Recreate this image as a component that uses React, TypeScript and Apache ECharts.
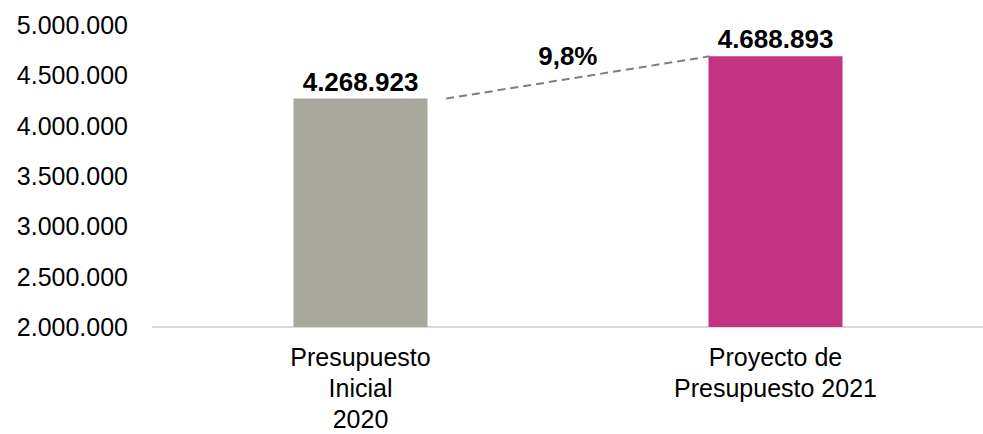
import React, { useEffect, useRef } from "react";
import * as echarts from "echarts";

const categories = ["Presupuesto\nInicial\n2020", "Proyecto de\nPresupuesto 2021"];
const values = [4268923, 4688893];
const barColors = ["#A8A89C", "#C23382"];
const yTicks = { min: 2000000, max: 5000000, interval: 500000 };

const FONT = "'Liberation Sans', Arial, Helvetica, sans-serif";

function fmt(v: number): string {
  return String(Math.round(v)).replace(/\B(?=(\d{3})+(?!\d))/g, ".");
}

export default function App() {
  const ref = useRef<HTMLDivElement>(null);
  useEffect(() => {
    if (!ref.current) return;
    const chart = echarts.init(ref.current, undefined, { renderer: "svg" });

    // bar geometry in category units (band = 1)
    const barFrac = 134 / 421.5;
    const gapFrac = 20 / 421.5;
    const startX = 0.5 + barFrac / 2 + gapFrac;
    const endX = 1.5 - barFrac / 2;
    const pct = (values[1] / values[0] - 1) * 100;
    const pctText = pct.toFixed(1).replace(".", ",") + "%";
    const midX = (startX + endX) / 2;
    const midY = (values[0] + values[1]) / 2;

    chart.setOption({
      animation: false,
      grid: { left: 153, right: -13, top: 25, bottom: 101, containLabel: false },
      xAxis: [
        {
          type: "category",
          data: categories,
          axisLine: { show: true, lineStyle: { color: "#D9D9D9", width: 2 } },
          axisTick: { show: false },
          axisLabel: {
            color: "#000",
            fontFamily: FONT,
            fontSize: 25,
            lineHeight: 31,
            margin: 14,
            interval: 0,
          },
        },
        { type: "value", min: 0, max: 2, show: false },
      ],
      yAxis: {
        type: "value",
        min: yTicks.min,
        max: yTicks.max,
        interval: yTicks.interval,
        axisLine: { show: false },
        axisTick: { show: false },
        splitLine: { show: false },
        axisLabel: {
          color: "#000",
          fontFamily: FONT,
          fontSize: 25,
          margin: 25,
          formatter: (v: number) => fmt(v),
        },
      },
      series: [
        {
          type: "bar",
          xAxisIndex: 0,
          barWidth: 134,
          data: values.map((v, i) => ({ value: v, itemStyle: { color: barColors[i] } })),
          label: {
            show: true,
            position: "top",
            distance: 4,
            color: "#000",
            fontFamily: FONT,
            fontSize: 26,
            fontWeight: "bold",
            formatter: (p: any) => fmt(p.value),
          },
        },
        {
          type: "line",
          xAxisIndex: 1,
          symbol: "none",
          data: [
            [startX, values[0]],
            [endX, values[1]],
          ],
          lineStyle: { color: "#7F7F7F", width: 2, type: [8, 5] },
          silent: true,
        },
      ],
    });

    const [px, py] = chart.convertToPixel({ xAxisIndex: 1, yAxisIndex: 0 }, [midX, midY]) as number[];
    chart.setOption({
      graphic: [
        {
          type: "text",
          x: px - 10,
          y: py - 8,
          silent: true,
          style: {
            text: pctText,
            fill: "#000",
            font: `bold 26px ${FONT}`,
            align: "center",
            verticalAlign: "bottom",
          },
        },
      ],
    });
    return () => chart.dispose();
  }, []);
  return (
    <div
      ref={ref}
      style={{ position: "fixed", left: 0, top: 0, width: 983, height: 434, background: "#fff" }}
    />
  );
}
